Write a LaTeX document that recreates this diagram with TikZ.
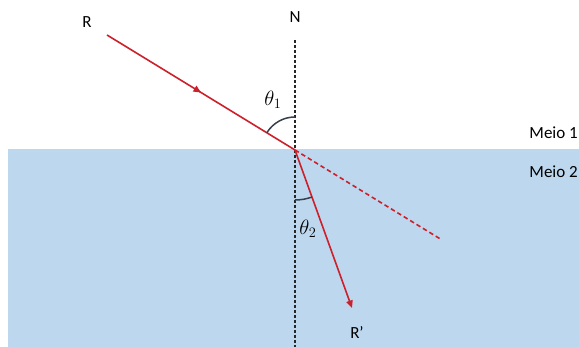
\documentclass[tikz,border=0pt]{standalone}
\usepackage{fontspec}
\setsansfont{Carlito}
\usepackage{tikz}
\usetikzlibrary{arrows.meta,decorations.markings}
\definecolor{raycol}{RGB}{204,32,42}
\definecolor{medium}{RGB}{189,215,238}
\definecolor{arccol}{RGB}{55,65,78}

\begin{document}
\begin{tikzpicture}[
  x=1pt, y=1pt,
  font=\sffamily\fontsize{17}{20}\selectfont,
  >={Triangle[length=7.5pt, width=6.5pt]},
  ray/.style={draw=raycol, line width=1.6pt},
  extray/.style={ray, dash pattern=on 4.5pt off 3pt},
  midarrow/.style={postaction={decorate}, decoration={markings,
    mark=at position 0.5 with {\arrow{Triangle[length=7.5pt, width=6.5pt]}}}},
  normalline/.style={draw=black!85, line width=1.1pt, dash pattern=on 3pt off 2pt},
  anglearc/.style={draw=arccol, line width=1.5pt},
  lbl/.style={inner sep=0pt},
  angle/.style={lbl, font=\fontsize{20}{23}\selectfont}
]
  \useasboundingbox (0,0) rectangle (579,347);

  % Media
  \fill[medium] (8,0) rectangle (579,198);
  \node[lbl, anchor=east] (m1) at (578,214) {Meio 1};
  \node[lbl, anchor=east] (m2) at (578,175) {Meio 2};

  % Points
  \coordinate (O)    at (295,197);
  \coordinate (Rin)  at (107,312);
  \coordinate (Rout) at (352,39);
  \coordinate (Ext)  at (442,107);
  \coordinate (Ntop) at (295,307);
  \coordinate (Nbot) at (295,0);

  % Normal
  \draw[normalline] (Ntop) -- (Nbot);

  % Rays
  \draw[extray] (O) -- (Ext);
  \draw[ray, ->] (O) -- (Rout);
  \draw[ray, midarrow] (Rin) -- (O);

  % Angles
  \draw[anglearc] ([shift={(90:33)}]O) arc[start angle=90, end angle=148.5, radius=33];
  \draw[anglearc] ([shift={(-90:50)}]O) arc[start angle=-90, end angle=-70.2, radius=50];

  % Labels
  \node[lbl] (R)  at (87,325)  {R};
  \node[lbl] (N)  at (295,330) {N};
  \node[lbl] (Rp) at (357,14)  {R'};
  \node[angle] (t1) at (273,247) {$\theta_1$};
  \node[angle] (t2) at (308,118) {$\theta_2$};
\end{tikzpicture}
\end{document}
